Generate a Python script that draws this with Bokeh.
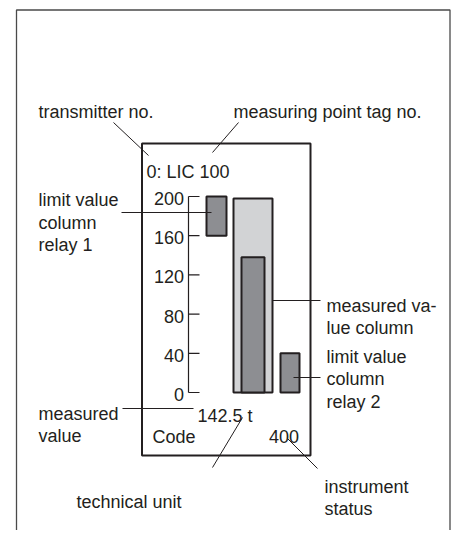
from bokeh.plotting import figure
from bokeh.models import Range1d
from bokeh.core.properties import value
from bokeh.embed import file_html
from bokeh.resources import INLINE

# ---- data ----
scale_ticks = [0, 40, 80, 120, 160, 200]
scale_labels = ["0", "40", "80", "120", "160", "200"]
relay1_range = [160, 200]          # limit value column relay 1
relay2_range = [0, 40]             # limit value column relay 2
column_full = 198                  # measured value column (background)
measured_level = 138               # measured value bar
tag_text = "0: LIC 100"
value_text = "142.5 t"
code_text = "Code"
status_text = "400"

# ---- layout helpers (reference pixel coordinates) ----
PX_PER_UNIT = 0.98
ZERO_Y = 392.0
def Y(py):
    return (ZERO_Y - py) / PX_PER_UNIT

W, H = 451, 530
p = figure(width=W, height=H, output_backend="svg", toolbar_location=None,
           x_range=Range1d(0, W), y_range=Range1d(Y(H), Y(0)),
           min_border=0, background_fill_color="white", border_fill_color="white")
p.axis.visible = False
p.grid.visible = False
p.outline_line_color = None

INK = "#231f20"
DARK = "#8d8e92"
LIGHT = "#d2d3d5"
FONT = value("Liberation Sans")
FS = value("18px")

# outer frame (open at the bottom of the picture)
p.line([16, 16, 449.5, 449.5], [Y(560), Y(9.5), Y(9.5), Y(560)], line_color="#4a4a4a", line_width=1.3)

# display box
p.quad(left=[141.5], right=[310], top=[Y(143)], bottom=[Y(455)], fill_color=None,
       line_color=INK, line_width=2)

# scale
AX = 188
p.segment(x0=[AX], y0=[scale_ticks[0]], x1=[AX], y1=[scale_ticks[-1]], line_color=INK, line_width=1.2)
p.segment(x0=[AX] * len(scale_ticks), y0=scale_ticks, x1=[199] * len(scale_ticks), y1=scale_ticks,
          line_color=INK, line_width=1.2)
p.text(x=[183.5] * len(scale_ticks), y=[t - 2.0 / PX_PER_UNIT for t in scale_ticks], text=scale_labels,
       text_align="right", text_baseline="alphabetic", text_font=FONT, text_font_size=FS, text_color=INK)

# bars
p.quad(left=[233], right=[272], bottom=[0], top=[column_full], fill_color=LIGHT, line_color=INK, line_width=2)
p.quad(left=[241], right=[264], bottom=[0], top=[measured_level], fill_color=DARK, line_color=INK, line_width=2)
p.quad(left=[206], right=[226], bottom=[relay1_range[0]], top=[relay1_range[1]], fill_color=DARK,
       line_color=INK, line_width=2)
p.quad(left=[280], right=[299], bottom=[relay2_range[0]], top=[relay2_range[1]], fill_color=DARK,
       line_color=INK, line_width=2)

# leader lines
lx0 = [113, 238, 121, 272, 293, 122, 242, 287]
ly0 = [122, 122, 212, 300, 377, 408, 417, 438]
lx1 = [148, 212, 211, 320, 320, 193, 212, 317]
ly1 = [155, 152, 212, 300, 377, 408, 467, 468]
p.segment(x0=lx0, y0=[Y(v) for v in ly0], x1=lx1, y1=[Y(v) for v in ly1], line_color=INK, line_width=1)

# texts (left aligned, baseline)
tx = [38, 233, 146,
      38, 38, 38,
      326, 326,
      326, 326, 326,
      38, 38,
      197, 152,
      76, 324, 324]
ty = [111, 111, 171,
      199, 222, 244,
      305, 327,
      356, 378, 401,
      413, 435,
      415, 436,
      501, 486, 508]
tt = ["transmitter no.", "measuring point tag no.", tag_text,
      "limit value", "column", "relay 1",
      "measured va-", "lue column",
      "limit value", "column", "relay 2",
      "measured", "value",
      value_text, code_text,
      "technical unit", "instrument", "status"]
p.text(x=tx, y=[Y(v) for v in ty], text=tt, text_align="left", text_baseline="alphabetic",
       text_font=FONT, text_font_size=FS, text_color=INK)
p.text(x=[298.5], y=[Y(436)], text=[status_text], text_align="right", text_baseline="alphabetic",
       text_font=FONT, text_font_size=FS, text_color=INK)

open("out.html", "w").write(file_html(p, INLINE))
